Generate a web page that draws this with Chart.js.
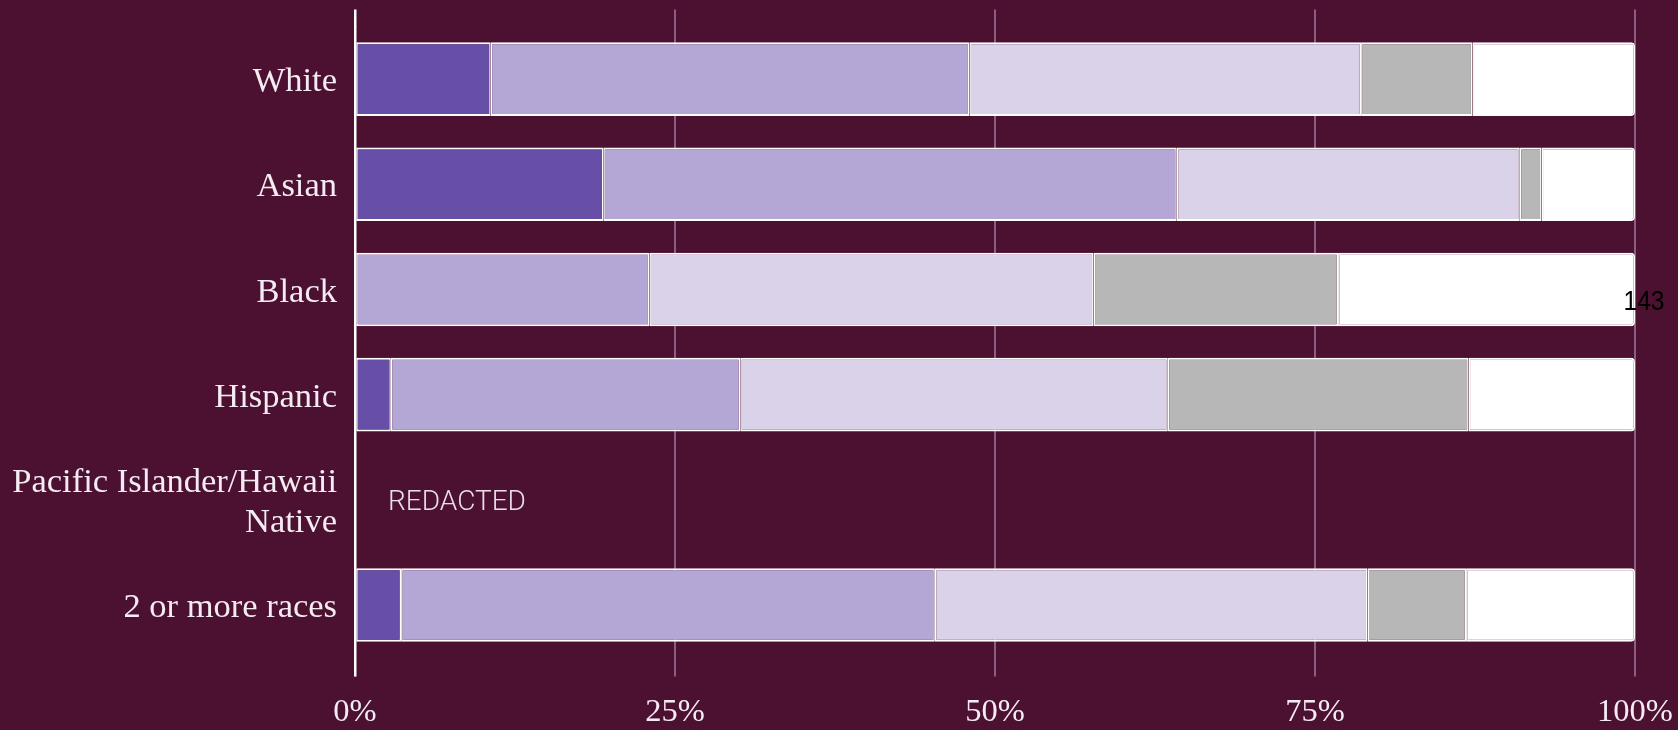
<!DOCTYPE html>
<html lang="en">
  <head>
    <meta charset="utf-8" />
    <title>Race breakdown</title>
    <style>
      * {
        margin: 0;
        padding: 0;
      }
      body {
        background: #4c1130;
      }
      .chartBox {
        width: 1678px;
        height: 730px;
      }
    </style>
  </head>
  <body>
    <div class="chartBox">
      <canvas id="myChart"></canvas>
    </div>

    <script src="https://cdn.jsdelivr.net/npm/chart.js"></script>

    <script>
      // data block
      const categories = [
        "White",
        "Asian",
        "Black",
        "Hispanic",
        ["Pacific Islander/Hawaii", "Native"],
        "2 or more races",
      ];
      const seriesNames = ["Level 1", "Level 2", "Level 3", "Level 4", "Level 5"];
      const level1 = [10.6, 19.4, 0, 2.8, null, 3.6];
      const level2 = [37.4, 44.8, 23.0, 27.3, null, 41.7];
      const level3 = [30.6, 26.8, 34.7, 33.4, null, 33.8];
      const level4 = [8.7, 1.7, 19.1, 23.5, null, 7.7];
      const level5 = [12.7, 7.3, 23.2, 13.0, null, 13.2];
      const rowCounts = [null, null, 143, null, null, null];
      const redactedRows = [false, false, false, false, true, false];
      const xTicks = [0, 25, 50, 75, 100];

      const colors = ["#674ea7", "#b4a7d6", "#d9d2e9", "#b7b7b7", "#ffffff"];
      const gridColor = "#8c5f82";
      const textColor = "#f4ecf2";

      const seriesValues = [level1, level2, level3, level4, level5];
      const data = {
        labels: categories,
        datasets: seriesValues.map((vals, i) => ({
          label: seriesNames[i],
          data: vals,
          backgroundColor: colors[i],
          borderColor: "#ffffff",
          borderWidth: { top: 2, bottom: 2, left: 1.5, right: 1.5 },
          borderSkipped: false,
          borderRadius: i === 4 ? { topRight: 4, bottomRight: 4 } : 0,
          barPercentage: 0.7,
          categoryPercentage: 1,
        })),
      };

      const lineColor = (c) => (c.tick && c.tick.value === 0 ? "#ffffff" : gridColor);
      const lineWidth = (c) => (c.tick && c.tick.value === 0 ? 2.5 : 2);

      // notes plugin block
      const notes = {
        id: "notes",
        afterDatasetsDraw(chart) {
          const {
            ctx,
            scales: { x, y },
          } = chart;
          ctx.save();
          ctx.textBaseline = "middle";
          rowCounts.forEach((n, i) => {
            if (n == null) return;
            ctx.save();
            ctx.translate(x.getPixelForValue(100) + 9, y.getPixelForValue(i) + 13);
            ctx.scale(0.88, 1);
            ctx.font = '28px "Liberation Sans", Arial, sans-serif';
            ctx.fillStyle = "#000000";
            ctx.textAlign = "center";
            ctx.fillText(String(n), 0, 0);
            ctx.restore();
          });
          redactedRows.forEach((r, i) => {
            if (!r) return;
            ctx.font = '300 28px Roboto, "Liberation Sans", sans-serif';
            ctx.fillStyle = "#e8dfe7";
            ctx.textAlign = "left";
            ctx.fillText("REDACTED", x.getPixelForValue(0) + 33, y.getPixelForValue(i) + 3);
          });
          ctx.restore();
        },
      };

      // config block
      const config = {
        type: "bar",
        data: data,
        options: {
          indexAxis: "y",
          responsive: true,
          maintainAspectRatio: false,
          animation: false,
          layout: {
            padding: { top: 9.5, left: 10, right: 43, bottom: 0 },
          },
          plugins: {
            legend: { display: false },
            tooltip: { enabled: false },
          },
          scales: {
            x: {
              stacked: true,
              min: 0,
              max: 100,
              afterBuildTicks: (scale) => {
                scale.ticks = xTicks.map((v) => ({ value: v }));
              },
              afterFit: (scale) => {
                scale.height = 72.4;
                scale.paddingLeft = 0;
                scale.paddingRight = 0;
              },
              border: { display: false },
              grid: {
                color: lineColor,
                lineWidth: lineWidth,
                tickColor: lineColor,
                tickWidth: lineWidth,
                tickLength: 19,
              },
              ticks: {
                padding: 16,
                color: textColor,
                font: { family: '"Liberation Serif", "Times New Roman", serif', size: 32.5 },
                callback: (v) => v + "%",
              },
            },
            x2: {
              position: "top",
              min: 0,
              max: 100,
              afterBuildTicks: (scale) => {
                scale.ticks = xTicks.map((v) => ({ value: v }));
              },
              afterFit: (scale) => {
                scale.paddingLeft = 0;
                scale.paddingRight = 0;
              },
              border: { display: false },
              grid: {
                drawOnChartArea: false,
                color: lineColor,
                lineWidth: lineWidth,
                tickColor: lineColor,
                tickWidth: lineWidth,
                tickLength: 17,
              },
              ticks: { display: false },
            },
            y: {
              stacked: true,
              afterFit: (scale) => {
                scale.width = 345;
                scale.paddingTop = 0;
                scale.paddingBottom = 0;
              },
              border: { display: false },
              grid: { display: false, drawTicks: false },
              ticks: {
                padding: 18,
                labelOffset: 3,
                color: textColor,
                font: {
                  family: '"Liberation Serif", "Times New Roman", serif',
                  size: 34.5,
                  lineHeight: 1.18,
                },
              },
            },
          },
        },
        plugins: [notes],
      };

      // init render block
      const myChart = new Chart(document.getElementById("myChart"), config);
    </script>
  </body>
</html>
